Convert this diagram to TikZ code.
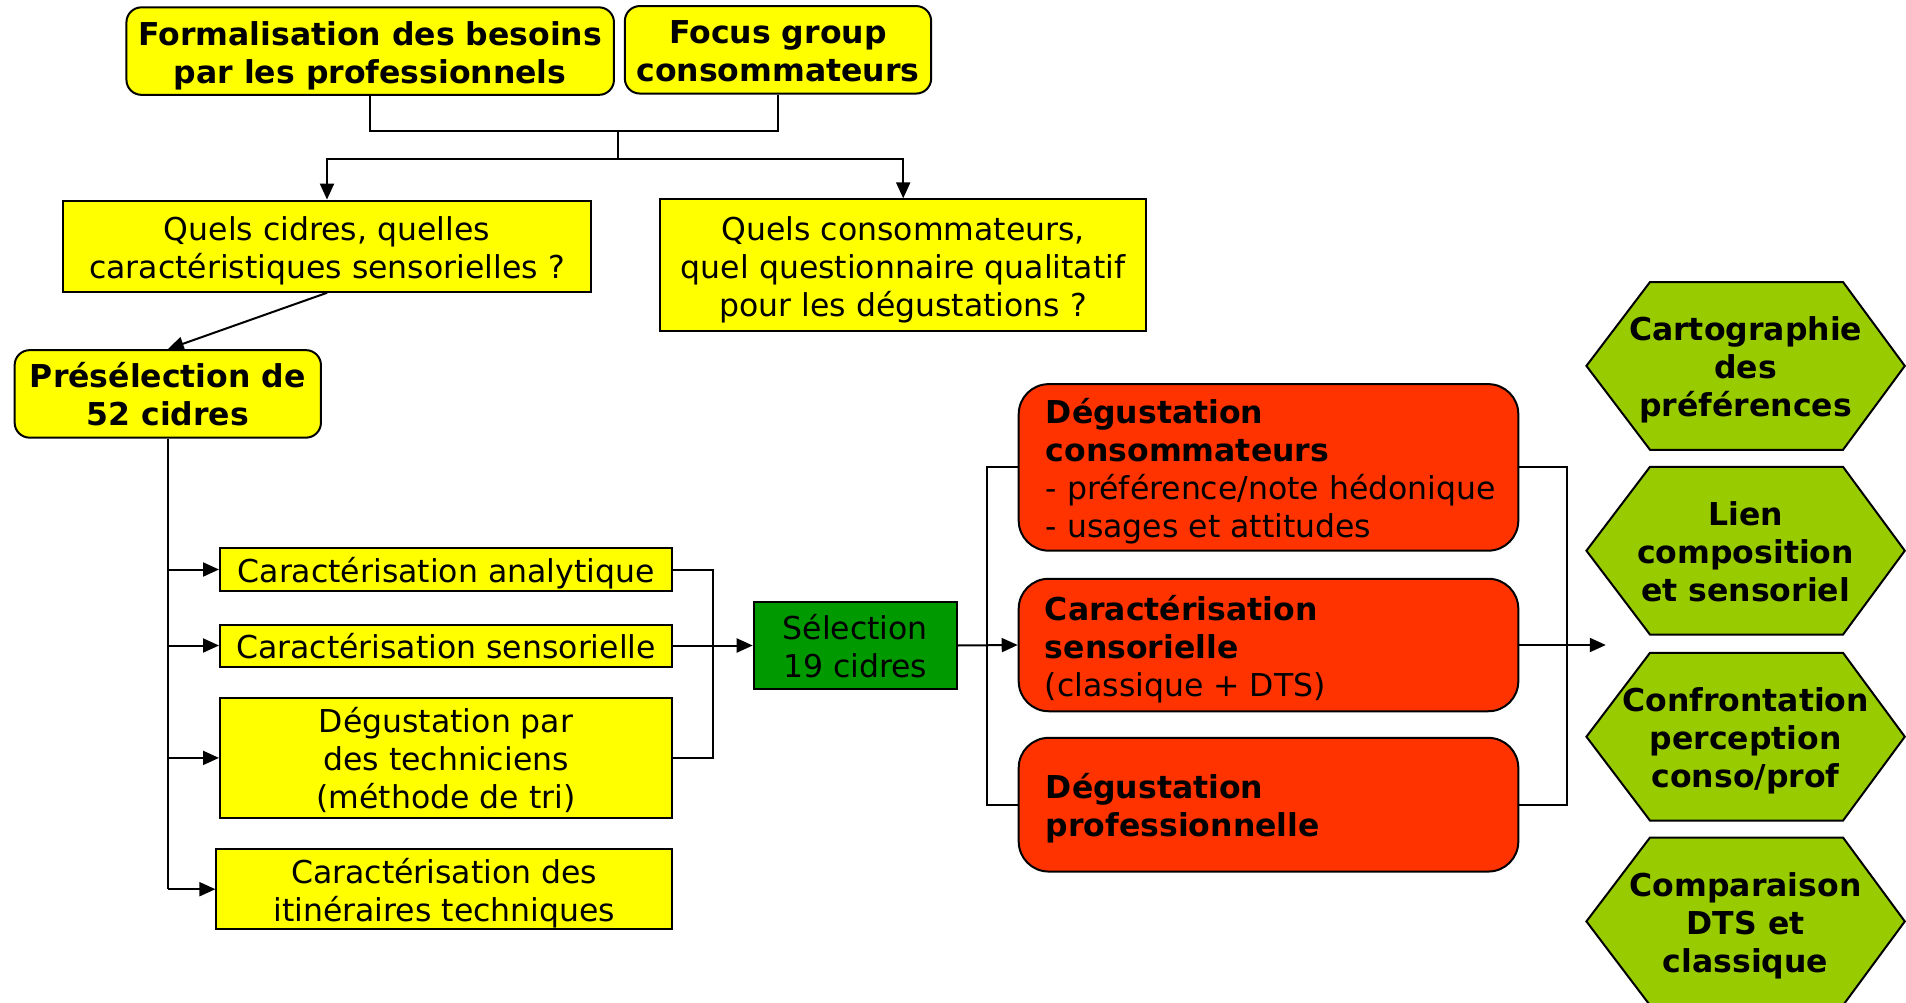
\documentclass[tikz,border=0pt]{standalone}
\usepackage{fontspec}
\setmainfont{DejaVu Sans}
\usetikzlibrary{arrows.meta,calc}
\definecolor{yel}{HTML}{FFFF00}
\definecolor{redb}{HTML}{FF3300}
\definecolor{grn}{HTML}{009900}
\definecolor{hexg}{HTML}{99CC00}
\newcommand\strtop{\rule{0pt}{34pt}}
\newcommand\strbot{\rule[-8pt]{0pt}{8pt}}
\newcommand\myhex[3]{%
  \draw[hexbox] (1586.4,#2) -- (1650,#2-83.9) -- (1843,#2-83.9) -- (1904.8,#2) -- (1843,#2+83.9) -- (1650,#2+83.9) -- cycle;
  \node[htxt] (#1) at (1745.6,#2) {#3};}
\begin{document}
\begin{tikzpicture}[x=1pt,y=-1pt,
 every node/.style={font=\fontsize{31.5}{38}\selectfont, inner sep=0pt},
 ybox/.style={draw, line width=2pt, fill=yel, align=center},
 yround/.style={ybox, rounded corners=15pt, font=\fontsize{31.5}{38}\selectfont\bfseries},
 rbox/.style={draw, line width=2pt, fill=redb, rounded corners=30pt},
 gbox/.style={draw, line width=2pt, fill=grn, align=center},
 hexbox/.style={draw, line width=2pt, fill=hexg},
 htxt/.style={align=center, font=\fontsize{31.5}{38}\selectfont\bfseries},
 rtxt/.style={anchor=west, align=left},
 conn/.style={line width=2pt},
 arr/.style={conn, -{Triangle[length=16pt,width=14pt]}},
]
\useasboundingbox (0,0) rectangle (1906,1003);

\node[yround, minimum width=487.5pt, minimum height=87.5pt] (f) at (370.2,51.1) {\strtop Formalisation des besoins\\par les professionnels\strbot};
\node[yround, minimum width=306.3pt, minimum height=87.5pt] (fg) at (778,49.8) {\strtop Focus group\\consommateurs\strbot};
\node[ybox, minimum width=527.6pt, minimum height=91.2pt] (qc) at (327,246.2) {\strtop Quels cidres, quelles\\caractéristiques sensorielles ?\strbot};
\node[ybox, minimum width=486.2pt, minimum height=131.3pt] (qk) at (903.2,265) {\strtop Quels consommateurs,\\quel questionnaire qualitatif\\pour les dégustations ?\strbot};
\node[yround, minimum width=306.3pt, minimum height=87.5pt] (pre) at (167.8,393.9) {\strtop Présélection de\\52 cidres\strbot};
\node[ybox, minimum width=452.2pt, minimum height=42.5pt] (a1) at (446.1,569.5) {\strtop Caractérisation analytique\strbot};
\node[ybox, minimum width=452.2pt, minimum height=41.3pt] (a2) at (446.1,645.5) {\strtop Caractérisation sensorielle\strbot};
\node[ybox, minimum width=452.2pt, minimum height=120.3pt] (a3) at (446.1,757.9) {\strtop Dégustation par\\des techniciens\\(méthode de tri)\strbot};
\node[ybox, minimum width=455.8pt, minimum height=79pt] (a4) at (444.3,889.2) {\strtop Caractérisation des\\itinéraires techniques\strbot};
\node[gbox, minimum width=203pt, minimum height=87.5pt] (sel) at (855.2,645.5) {\strtop Sélection\\19 cidres\strbot};

\node[rbox, minimum width=499.6pt, minimum height=166.5pt] (r1) at (1268.5,467.4) {};
\node[rbox, minimum width=499.6pt, minimum height=132.5pt] (r2) at (1268.5,645) {};
\node[rbox, minimum width=499.6pt, minimum height=133.7pt] (r3) at (1268.5,804.7) {};
\node[rtxt] (r1t) at ([xshift=28pt]r1.west) {\strtop\textbf{Dégustation}\\\textbf{consommateurs}\\- préférence/note hédonique\\- usages et attitudes\strbot};
\node[rtxt] (r2t) at ([xshift=27pt]r2.west) {\strtop\textbf{Caractérisation}\\\textbf{sensorielle}\\(classique + DTS)\strbot};
\node[rtxt] (r3t) at ([xshift=28pt]r3.west) {\strtop\textbf{Dégustation}\\\textbf{professionnelle}\strbot};

\myhex{h1}{365.9}{\strtop Cartographie\\des\\préférences\strbot}
\myhex{h2}{550.7}{\strtop Lien\\composition\\et sensoriel\strbot}
\myhex{h3}{736.7}{\strtop Confrontation\\perception\\conso/prof\strbot}
\myhex{h4}{921.4}{\strtop Comparaison\\DTS et\\classique\strbot}

% top connectors
\coordinate (j1) at (617.5,131.3);
\coordinate (j2) at (617.5,159.2);
\draw[conn] (f.south) |- (j1) -| (fg.south);
\draw[conn] (j1) -- (j2);
\draw[arr] (j2) -| (qc.north);
\draw[arr] (j2) -| (qk.north);
\draw[arr] (qc.south) -- (pre.north);

% trunk
\draw[conn] (pre.south) -- (pre.south |- a4.west);
\foreach \b in {a1,a2,a3,a4} \draw[arr] (pre.south |- \b.west) -- (\b.west);

% merge
\draw[conn] (a1.east) -- ++(40.1,0) |- (a3.east);
\draw[arr] (a2.east) -- (sel.west);
\draw[arr] (sel.east) -- (r2.west);
\draw[conn] (r1.west) -- ++(-30.4,0) |- (r3.west);
\draw[conn] (r1.east) -- ++(47.4,0) |- (r3.east);
\coordinate (out) at (1605.8,645);
\draw[arr] (r2.east) -- (out);
\end{tikzpicture}
\end{document}
